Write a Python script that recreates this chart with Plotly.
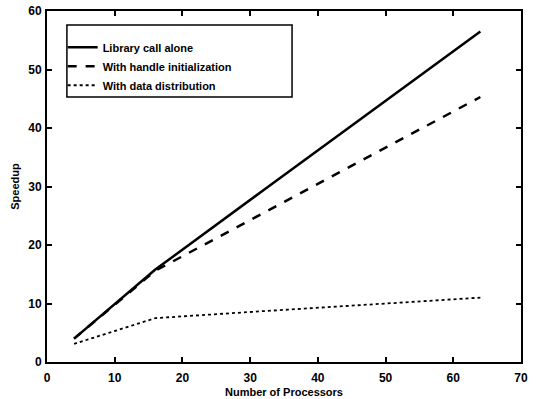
import plotly.graph_objects as go

procs = [4, 8, 16, 32, 64]
lib_alone = [4.0, 7.9, 15.8, 29.4, 56.5]
handle_init = [4.0, 7.9, 15.6, 25.5, 45.3]
data_dist = [3.1, 4.6, 7.5, 8.7, 11.0]

names = ["Library call alone", "With handle initialization", "With data distribution"]

font = dict(family="Liberation Sans, Arial, sans-serif", size=11, color="black", weight="bold")
tickfont = dict(family="Liberation Sans, Arial, sans-serif", size=12, color="black", weight="bold")

fig = go.Figure()
fig.add_trace(go.Scatter(x=procs, y=lib_alone, mode="lines", name=names[0],
                         line=dict(color="black", width=2.5, dash="solid")))
fig.add_trace(go.Scatter(x=procs, y=handle_init, mode="lines", name=names[1],
                         line=dict(color="black", width=2.5, dash="dash")))
fig.add_trace(go.Scatter(x=procs, y=data_dist, mode="lines", name=names[2],
                         line=dict(color="black", width=1.8, dash="dot")))

axis_common = dict(showgrid=False, zeroline=False, showline=True, linecolor="black", linewidth=2,
                   mirror="ticks", ticks="inside", ticklen=5, tickwidth=1.5, tickcolor="black",
                   tickfont=tickfont, automargin=False)

fig.update_layout(
    width=536, height=399,
    margin=dict(l=47, r=15, t=11, b=37),
    paper_bgcolor="white", plot_bgcolor="white",
    font=font,
    showlegend=True,
    legend=dict(x=0.033, y=0.938, xanchor="left", yanchor="top", bgcolor="rgba(0,0,0,0)",
                borderwidth=0, font=font, tracegroupgap=0, itemwidth=30),
    xaxis=dict(range=[0, 70], dtick=10, ticklabelstandoff=4,
               title=dict(text="Number of Processors", font=font, standoff=4),
               **axis_common),
    yaxis=dict(range=[0, 60], dtick=10, ticklabelstandoff=1,
               title=dict(text="Speedup", font=font, standoff=6),
               **axis_common),
    shapes=[dict(type="rect", xref="paper", yref="paper", x0=0.042, x1=0.517, y0=0.755, y1=0.96,
                 line=dict(color="black", width=1.5))],
)

fig.write_html("out.html")
